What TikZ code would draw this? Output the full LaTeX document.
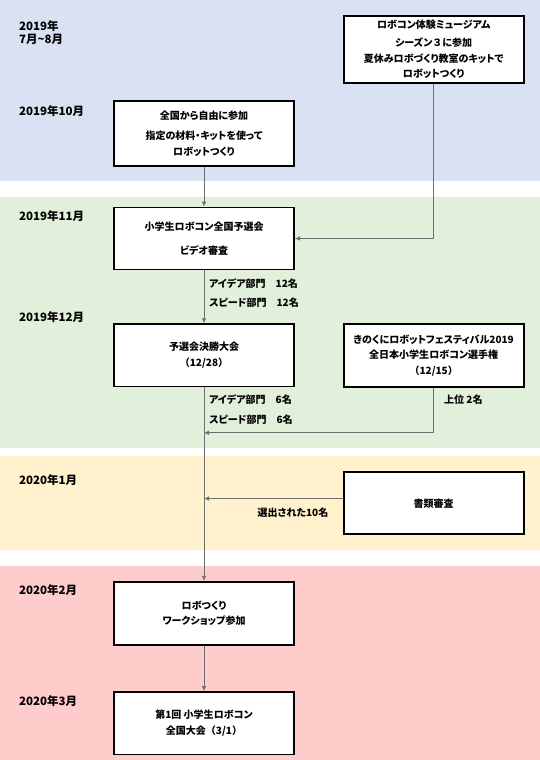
\documentclass[tikz,border=0pt]{standalone}
\usepackage{fontspec}
\setmainfont{Noto Sans CJK JP}[RawFeature=+palt]
\newfontfamily\jpwide{Noto Sans CJK JP}
\usetikzlibrary{arrows.meta}
\definecolor{bandblue}{RGB}{218,225,242}
\definecolor{bandgreen}{RGB}{226,239,218}
\definecolor{bandyellow}{RGB}{255,242,204}
\definecolor{bandpink}{RGB}{255,204,204}
\definecolor{flowgray}{RGB}{110,110,110}
\begin{document}
\begin{tikzpicture}[x=1pt, y=-1pt,
    box/.style={draw=black, line width=1.6pt, fill=white, minimum width=180pt, align=center, inner sep=2pt, font=\bfseries\fontsize{10}{15.5}\selectfont},
    datelabel/.style={anchor=west, align=left, inner sep=0pt, font=\bfseries\fontsize{11.5}{13.8}\selectfont},
    note/.style={anchor=west, inner sep=0pt, font=\bfseries\fontsize{10}{12}\selectfont},
    flow/.style={draw=flowgray, line width=0.8pt, -{Latex[length=5pt,width=4.5pt]}}]

                \useasboundingbox (0,0) rectangle (540,760);
                \fill[bandblue] (0,0) rectangle (540,180.8);
                \fill[bandgreen] (0,197.3) rectangle (540,448.3);
                \fill[bandyellow] (0,455.5) rectangle (540,550.2);
                \fill[bandpink] (0,565.7) rectangle (540,760);

                \node[datelabel] (d1) at (19,32.7) {2019年\\7月\textasciitilde 8月};
                \node[datelabel] (d2) at (19,111) {2019年10月};
                \node[datelabel] (d3) at (19,216.5) {2019年11月};
                \node[datelabel] (d4) at (19,316.7) {2019年12月};
                \node[datelabel] (d5) at (19,480.6) {2020年1月};
                \node[datelabel] (d6) at (19,590.5) {2020年2月};
                \node[datelabel] (d7) at (19,700.7) {2020年3月};

                \node[box, minimum height=67pt] (museum) at (433.7,49.6) {ロボコン体験ミュージアム\\[2.5pt]シーズン{\jpwide ３}に参加\\夏休みロボづくり教室のキットで\\ロボットつくり};
                \node[box, minimum height=65pt] (free) at (204,133.6) {全国から自由に参加\\[4.5pt]指定の材料・キットを使って\\ロボットつくり};
                \node[box, minimum height=62pt] (prelim) at (204,238.5) {小学生ロボコン全国予選会\\[8pt]ビデオ審査};
                \node[box, minimum height=62.5pt] (final) at (204,355.3) {予選会決勝大会\\{\jpwide （}12/28{\jpwide ）}};
                \node[box, minimum height=63pt] (kinokuni) at (433.7,355.6) {きのくにロボットフェスティバル2019\\全日本小学生ロボコン選手権\\{\jpwide （}12/15{\jpwide ）}};
                \node[box, minimum height=62pt] (papers) at (433.7,503.2) {書類審査};
                \node[box, minimum height=63pt] (workshop) at (204,613.2) {ロボつくり\\ワークショップ参加};
                \node[box, minimum height=62.5pt] (national) at (204,723.2) {第1回 小学生ロボコン\\全国大会{\jpwide （}3/1{\jpwide ）}};

                \node[note] (n1) at (209,283.7) {アイデア部門　12名};
                \node[note] (n2) at (209,303) {スピード部門　12名};
                \node[note] (n3) at (209,400) {アイデア部門　6名};
                \node[note] (n4) at (209,420) {スピード部門　6名};
                \node[note] (n5) at (444,400) {上位 2名};
                \node[note, anchor=center] (n6) at (293,513) {選出された10名};

                \coordinate (j1) at (204,432.8);
                \coordinate (j2) at (204,498.5);

                \draw[flow] (free)--(prelim);
                \draw[flow] (museum.south) |- (prelim.east);
                \draw[flow] (prelim)--(final);
                \draw[flow] (final)--(workshop);
                \draw[flow] (kinokuni.south) |- (j1);
                \draw[flow] (papers.west |- j2)--(j2);
                \draw[flow] (workshop)--(national);

            \end{tikzpicture}
\end{document}
